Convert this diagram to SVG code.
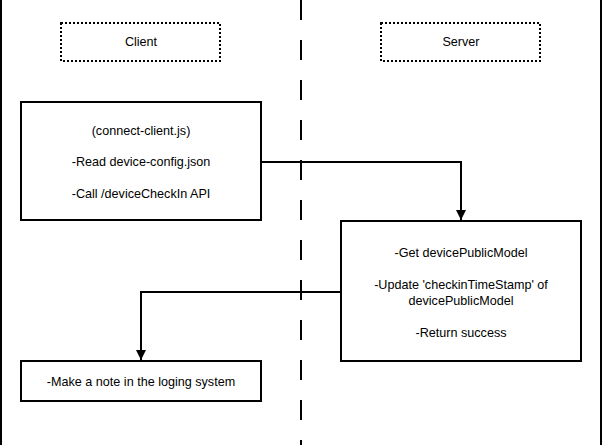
<svg xmlns="http://www.w3.org/2000/svg" width="604" height="445" viewBox="0 0 604 445">
<defs>
<style>
.box{fill:#fff;stroke:#000;stroke-width:2}
.dot{fill:#fff;stroke:#000;stroke-width:2;stroke-dasharray:2 2}
.ln{fill:none;stroke:#000;stroke-width:2}
text{font-family:"Liberation Sans",Arial,sans-serif;font-size:12.6px;fill:#000;text-anchor:middle}
</style>
<marker id="arr" markerWidth="10" markerHeight="10" refX="10" refY="5" orient="auto" markerUnits="userSpaceOnUse">
<path d="M0,0 L10,5 L0,10 Z" fill="#000"/>
</marker>
</defs>
<rect width="604" height="445" fill="#fff"/>
<g id="lanes">
<line class="ln" x1="1" y1="0" x2="1" y2="445"/>
<line class="ln" x1="601" y1="0" x2="601" y2="445"/>
<line class="ln" x1="301" y1="0" x2="301" y2="445" stroke-dasharray="20 20"/>
</g>
<g id="client">
<rect class="dot" x="61" y="23" width="159" height="38"/>
<text x="141" y="46">Client</text>
</g>
<g id="server">
<rect class="dot" x="381" y="23" width="159" height="38"/>
<text x="461" y="46">Server</text>
</g>
<g id="connect-client">
<rect class="box" x="21" y="102" width="240" height="118"/>
<text x="141" y="135">(connect-client.js)</text>
<text x="141" y="166">-Read device-config.json</text>
<text x="141" y="198">-Call /deviceCheckIn API</text>
</g>
<g id="server-proc">
<rect class="box" x="341" y="221" width="240" height="140"/>
<text x="461" y="257">-Get devicePublicModel</text>
<text x="461" y="289">-Update 'checkinTimeStamp' of</text>
<text x="461" y="305">devicePublicModel</text>
<text x="461" y="337">-Return success</text>
</g>
<g id="log">
<rect class="box" x="21" y="361" width="240" height="40"/>
<text x="141" y="386">-Make a note in the loging system</text>
</g>
<g id="connectors">
<path class="ln" d="M261,162 H461 V220" marker-end="url(#arr)"/>
<path class="ln" d="M341,292 H141 V360" marker-end="url(#arr)"/>
</g>
</svg>
